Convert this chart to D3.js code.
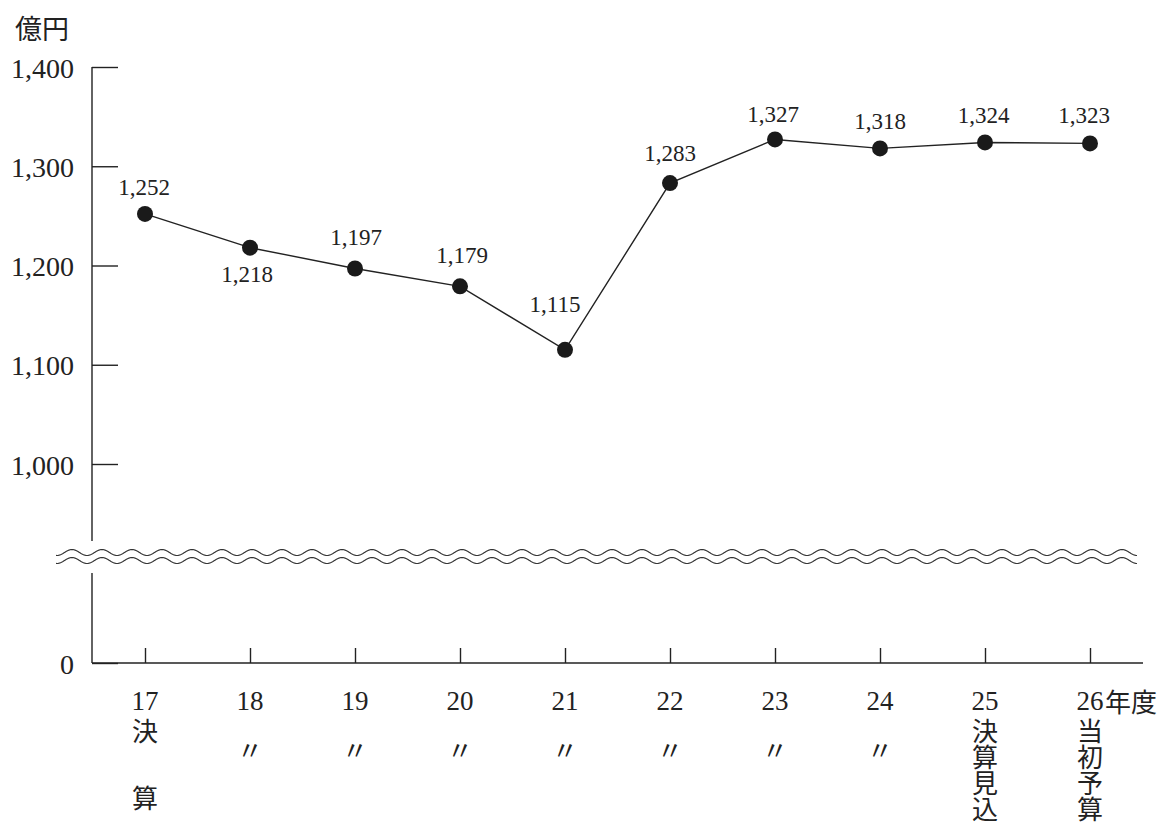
<!DOCTYPE html>
<html>
<head>
<meta charset="utf-8">
<script src="https://cdn.jsdelivr.net/npm/d3@7"></script>
<style>
  body { margin: 0; background: #fff; }
  text { font-family: "Liberation Serif", "Noto Sans CJK JP", serif; fill: #222; }
</style>
</head>
<body>
<div id="chart"></div>
<script>
// 年度別の推移（億円）
var years = ["17", "18", "19", "20", "21", "22", "23", "24", "25", "26"];
var subLabels = [["決", "算"], ["〃"], ["〃"], ["〃"], ["〃"], ["〃"], ["〃"], ["〃"],
  ["決", "算", "見", "込"], ["当", "初", "予", "算"]];
var values = [1252, 1218, 1197, 1179, 1115, 1283, 1327, 1318, 1324, 1323];
var yTicks = [0, 1000, 1100, 1200, 1300, 1400];
var unitLabel = "億円";
var yearSuffix = "年度";

var W = 1163, H = 831;
var left = 92, axisRight = 1143, bottom = 663;

var svg = d3.select("#chart").append("svg")
  .attr("width", W).attr("height", H);

// broken scale: 0 -> bottom, then 1000..1400
var y = d3.scaleLinear()
  .domain([0, 1000, 1400])
  .range([bottom, 464, 67]);
var x = d3.scalePoint()
  .domain(years)
  .range([145, 1090]);

var ink = "#222";

// y axis ticks (inward) + labels
var yAxis = svg.append("g")
  .attr("transform", `translate(${left},0)`)
  .call(d3.axisLeft(y).tickValues(yTicks)
    .tickSizeInner(-26).tickSizeOuter(0).tickPadding(18)
    .tickFormat(d3.format(",")));
yAxis.select(".domain").remove();
yAxis.selectAll("line").attr("stroke", ink).attr("stroke-width", 1.4);
yAxis.selectAll("text")
  .attr("font-size", 28).attr("dy", null).attr("y", 10)
  .style("font-family", "Liberation Serif").attr("fill", ink);

// y axis line with a gap for the break
var breakTop = 541, breakBot = 573;
svg.append("line").attr("x1", left).attr("x2", left)
  .attr("y1", y(1400)).attr("y2", breakTop)
  .attr("stroke", ink).attr("stroke-width", 1.4);
svg.append("line").attr("x1", left).attr("x2", left)
  .attr("y1", breakBot).attr("y2", bottom)
  .attr("stroke", ink).attr("stroke-width", 1.4);

// wavy break marks
var waveX = d3.range(56, 1137.5, 1);
var wave = function(yc) {
  return d3.line()
    .x(function(d) { return d; })
    .y(function(d) { return yc - 3 * Math.cos(2 * Math.PI * (d - 1122) / 30); })(waveX);
};
[552.5, 560.5].forEach(function(yc) {
  svg.append("path").attr("d", wave(yc))
    .attr("fill", "none").attr("stroke", "#333").attr("stroke-width", 1.2);
});

// x axis
var xAxis = svg.append("g")
  .attr("transform", `translate(0,${bottom})`)
  .call(d3.axisBottom(x).tickSizeInner(-15).tickSizeOuter(0).tickFormat(""));
xAxis.select(".domain").remove();
xAxis.selectAll("line").attr("stroke", ink).attr("stroke-width", 1.4);
svg.append("line").attr("x1", left).attr("x2", axisRight)
  .attr("y1", bottom).attr("y2", bottom)
  .attr("stroke", ink).attr("stroke-width", 1.4);

// x labels
svg.selectAll(".yr").data(years).enter().append("text")
  .attr("class", "yr")
  .attr("x", function(d) { return x(d); })
  .attr("y", 710)
  .attr("text-anchor", "middle")
  .attr("font-size", 27)
  .text(function(d) { return d; });

svg.append("text")
  .attr("x", x(years[years.length - 1]) + 15)
  .attr("y", 712)
  .attr("font-size", 26)
  .style("font-family", "Noto Sans CJK JP")
  .text(yearSuffix);

// 縦書きのラベル
years.forEach(function(yr, k) {
  var rows = subLabels[k];
  if (rows.length === 4) {
    svg.append("text")
      .attr("x", x(yr))
      .attr("y", 718)
      .attr("font-size", 26)
      .style("font-family", "Noto Sans CJK JP")
      .style("writing-mode", "vertical-rl")
      .text(rows.join(""));
  } else if (rows.length === 2) {
    // 決　算 (spread)
    svg.append("g").selectAll("text").data(rows).enter().append("text")
      .attr("x", x(yr))
      .attr("y", function(d, i) { return i === 0 ? 718 : 785; })
      .attr("font-size", 26)
      .style("font-family", "Noto Sans CJK JP")
      .style("writing-mode", "vertical-rl")
      .text(function(d) { return d; });
  } else {
    svg.append("text")
      .attr("x", x(yr))
      .attr("y", 760)
      .attr("text-anchor", "middle")
      .attr("font-size", 26)
      .style("font-family", "Noto Sans CJK JP")
      .text(rows[0]);
  }
});

// unit
svg.append("text")
  .attr("x", 15).attr("y", 39)
  .attr("font-size", 27)
  .style("font-family", "Noto Sans CJK JP")
  .text(unitLabel);

// line + points
var line = d3.line()
  .x(function(d, i) { return x(years[i]); })
  .y(function(d) { return y(d); });
svg.append("path").datum(values)
  .attr("d", line)
  .attr("fill", "none").attr("stroke", ink).attr("stroke-width", 1.4);

svg.selectAll(".pt").data(values).enter().append("circle")
  .attr("class", "pt")
  .attr("cx", function(d, i) { return x(years[i]); })
  .attr("cy", function(d) { return y(d); })
  .attr("r", 8)
  .attr("fill", "#1a1a1a");

// value labels
var labelDx = [-1, -3, 1, 2, -10, 0, -2, 0, -1.5, -6];
var labelDy = [-19, 34, -23, -23, -38, -22, -17, -19, -19, -20];
svg.selectAll(".val").data(values).enter().append("text")
  .attr("class", "val")
  .attr("x", function(d, i) { return x(years[i]) + labelDx[i]; })
  .attr("y", function(d, i) { return y(d) + labelDy[i]; })
  .attr("text-anchor", "middle")
  .attr("font-size", 23)
  .text(function(d) { return d3.format(",")(d); });
</script>
</body>
</html>
